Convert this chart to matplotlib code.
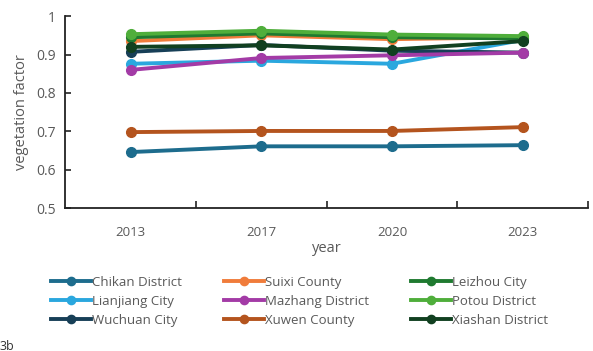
import numpy as np
import matplotlib.pyplot as plt

plt.rcParams['font.family'] = ['Open Sans', 'DejaVu Sans']

years = ["2013", "2017", "2020", "2023"]

# vegetation factor per region
chikan = [0.646, 0.661, 0.661, 0.664]
suixi = [0.935, 0.950, 0.940, 0.945]
leizhou = [0.945, 0.955, 0.945, 0.942]
lianjiang = [0.876, 0.884, 0.876, 0.938]
mazhang = [0.860, 0.891, 0.898, 0.905]
potou = [0.953, 0.962, 0.952, 0.948]
wuchuan = [0.907, 0.925, 0.910, 0.905]
xuwen = [0.698, 0.701, 0.701, 0.711]
xiashan = [0.920, 0.924, 0.913, 0.935]

series = [
  ("Chikan District", chikan, "#1d6c8d"),
  ("Lianjiang City", lianjiang, "#2aa7de"),
  ("Wuchuan City", wuchuan, "#173f57"),
  ("Suixi County", suixi, "#f07c3b"),
  ("Mazhang District", mazhang, "#a33ba6"),
  ("Xuwen County", xuwen, "#b4541e"),
  ("Leizhou City", leizhou, "#1f7a30"),
  ("Potou District", potou, "#4fae3b"),
  ("Xiashan District", xiashan, "#114020"),
]

fig = plt.figure(figsize=(5.93, 3.51), dpi=100)
ax = fig.add_axes([0.11, 0.407, 0.882, 0.547])

x = np.arange(len(years))
for name, vals, col in series:
  ax.plot(x, vals, color=col, lw=2.8, marker='o', ms=7, label=name)

grey = "#595959"
ax.set_xlim(-0.5, 3.5)
ax.set_ylim(0.5, 1.0)
ax.set_yticks([0.5, 0.6, 0.7, 0.8, 0.9, 1.0])
ax.set_yticklabels(["0.5", "0.6", "0.7", "0.8", "0.9", "1"])
ax.set_xticks(x)
ax.set_xticklabels(years)
ax.set_xticks([0.5, 1.5, 2.5, 3.5], minor=True)
ax.tick_params(axis='x', which='major', length=0, pad=13, colors=grey, labelsize=9.5)
ax.tick_params(axis='x', which='minor', direction='in', length=5, width=1.2, color='#222222')
ax.tick_params(axis='y', direction='in', length=4, width=1.2, color='#222222', labelcolor=grey, labelsize=10, pad=7)
for s in ['top', 'right']:
  ax.spines[s].set_visible(False)
for s in ['left', 'bottom']:
  ax.spines[s].set_linewidth(1.3)
  ax.spines[s].set_color('#222222')
ax.set_xlabel("year", color=grey, fontsize=10.5, labelpad=1)
ax.set_ylabel("vegetation factor", color=grey, fontsize=10.5, labelpad=5)

fig.legend(*ax.get_legend_handles_labels(), loc='center', bbox_to_anchor=(0.505, 0.142),
           ncol=3, frameon=False, fontsize=9.5, labelcolor=grey, handlelength=3.0,
           handletextpad=0.1, columnspacing=3.2, labelspacing=0.45, markerscale=0.85)

fig.text(0.0, -0.005, "3b", color='#333333', fontsize=9, va='bottom')

fig.savefig("out.png", dpi=100)
